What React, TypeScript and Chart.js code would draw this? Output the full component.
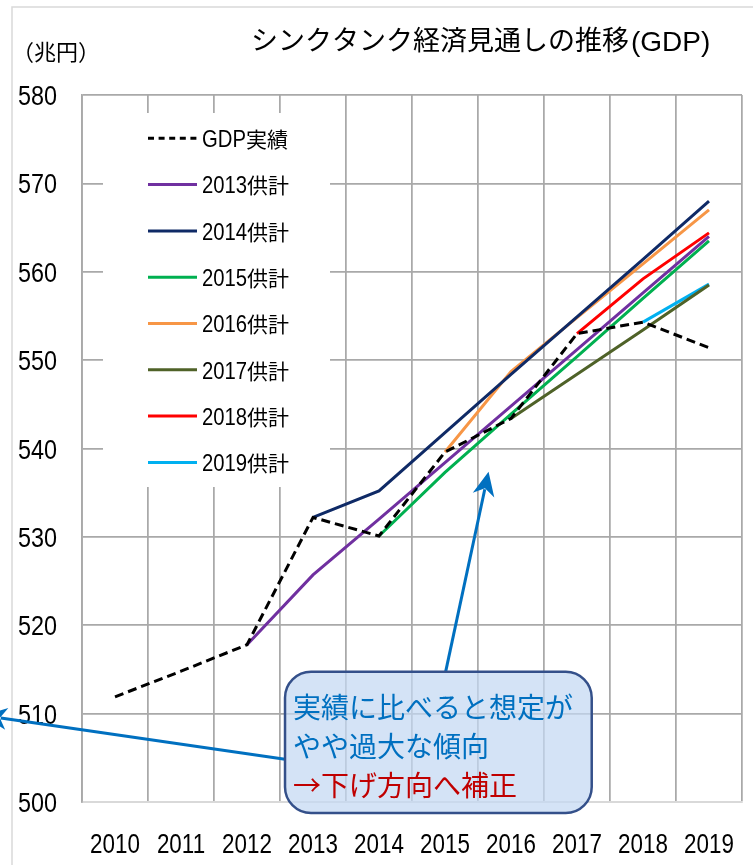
import React, { useEffect, useRef } from 'react';
import { Chart, registerables } from 'chart.js';

Chart.register(...registerables);

// ---------- data ----------
const years = ['2010', '2011', '2012', '2013', '2014', '2015', '2016', '2017', '2018', '2019'];
const gdpActual = [511.9, 514.8, 517.8, 532.2, 530.1, 539.6, 543.4, 553.0, 554.3, 551.4];
const forecast2013 = [null, null, 517.8, 525.7, 532.0, 538.4, 544.8, 551.2, 557.6, 564.0];
const forecast2014 = [null, null, null, 532.2, 535.2, 541.8, 548.4, 554.9, 561.4, 568.0];
const forecast2015 = [null, null, null, null, 530.1, 537.3, 543.9, 550.4, 557.0, 563.5];
const forecast2016 = [null, null, null, null, null, 539.6, 548.7, 554.8, 560.9, 567.0];
const forecast2017 = [null, null, null, null, null, null, 543.4, 548.4, 553.4, 558.5];
const forecast2018 = [null, null, null, null, null, null, null, 553.0, 559.2, 564.4];
const forecast2019 = [null, null, null, null, null, null, null, null, 554.3, 558.6];

const seriesNames = ['GDP実績', '2013供計', '2014供計', '2015供計', '2016供計', '2017供計', '2018供計', '2019供計'];
const seriesValues = [gdpActual, forecast2013, forecast2014, forecast2015, forecast2016, forecast2017, forecast2018, forecast2019];
const seriesColors = ['#000000', '#7030a0', '#0f2a66', '#00b050', '#f79646', '#4f6228', '#ff0000', '#00b0f0'];

const yMin = 500;
const yMax = 580;
const yStep = 10;

const titleCjk = 'シンクタンク経済見通しの推移';
const titleLatin = '(GDP)';
const unitText = '（兆円）';
const noteLines = ['実績に比べると想定が', 'やや過大な傾向', '→下げ方向へ補正'];
const noteColors = ['#0070c0', '#0070c0', '#c00000'];

// annotation anchors in data space (category index, value)
const noteBox = { x0: 2.576, x1: 7.223, yTop: 514.75, yBottom: 498.75 };
const arrowUp = { from: [5.01, 514.75], to: [5.66, 537.38] };
const arrowLeft = { from: [2.576, 504.83], to: [-2.0, 509.8] };

// ---------- styles ----------
const LATIN = "'Liberation Sans', Arial, sans-serif";
const CJK = "'Noto Sans CJK JP', sans-serif";
const GRID = '#a9a9a9';
const GRID_LIGHT = '#d9d9d9';
const ARROW = '#0070c0';

function drawScaled(ctx: CanvasRenderingContext2D, text: string, x: number, y: number, font: string, sx: number, align: string) {
  ctx.save();
  ctx.font = font;
  const w = ctx.measureText(text).width * sx;
  const left = align === 'center' ? x - w / 2 : align === 'right' ? x - w : x;
  ctx.translate(left, y);
  ctx.scale(sx, 1);
  ctx.textAlign = 'left';
  ctx.textBaseline = 'alphabetic';
  ctx.fillText(text, 0, 0);
  ctx.restore();
  return w;
}

function drawRuns(ctx: CanvasRenderingContext2D, text: string, x: number, y: number, latinFont: string, latinScale: number, cjkFont: string, color: string) {
  const runs = text.match(/[\x00-\x7F]+|[^\x00-\x7F]+/g) || [];
  let cx = x;
  ctx.fillStyle = color;
  for (const r of runs) {
    const latin = /^[\x00-\x7F]/.test(r);
    cx += drawScaled(ctx, r, cx, y, latin ? latinFont : cjkFont, latin ? latinScale : 1, 'left');
  }
}

function drawArrow(ctx: CanvasRenderingContext2D, x1: number, y1: number, x2: number, y2: number) {
  const ang = Math.atan2(y2 - y1, x2 - x1);
  const len = 24;
  const hw = 11;
  const bx = x2 - Math.cos(ang) * len;
  const by = y2 - Math.sin(ang) * len;
  ctx.save();
  ctx.strokeStyle = ARROW;
  ctx.fillStyle = ARROW;
  ctx.lineWidth = 3;
  ctx.beginPath();
  ctx.moveTo(x1, y1);
  ctx.lineTo(x2 - Math.cos(ang) * (len - 6), y2 - Math.sin(ang) * (len - 6));
  ctx.stroke();
  ctx.beginPath();
  ctx.moveTo(x2, y2);
  ctx.lineTo(bx + Math.sin(ang) * hw, by - Math.cos(ang) * hw);
  ctx.lineTo(x2 - Math.cos(ang) * (len - 7), y2 - Math.sin(ang) * (len - 7));
  ctx.lineTo(bx - Math.sin(ang) * hw, by + Math.cos(ang) * hw);
  ctx.closePath();
  ctx.fill();
  ctx.restore();
}

function area(chart: any) {
  return chart.chartArea;
}

const decorPlugin = {
  id: 'decor',
  beforeDraw(chart: any) {
    const ctx = chart.ctx as CanvasRenderingContext2D;
    ctx.save();
    // outer frame (left + top)
    ctx.strokeStyle = GRID_LIGHT;
    ctx.lineWidth = 1.5;
    ctx.beginPath();
    ctx.moveTo(12, chart.height + 5);
    ctx.lineTo(12, 7);
    ctx.lineTo(chart.width + 5, 7);
    ctx.stroke();
    // title
    ctx.fillStyle = '#000';
    ctx.textAlign = 'left';
    ctx.textBaseline = 'alphabetic';
    ctx.font = `27px ${CJK}`;
    ctx.fillText(titleCjk, 251, 50);
    const tw = ctx.measureText(titleCjk).width;
    ctx.font = `28px ${LATIN}`;
    ctx.fillText(titleLatin, 251 + tw + 2, 51);
    ctx.font = `22px ${CJK}`;
    ctx.fillText(unitText, 12, 60);
    ctx.restore();
  },
  beforeDatasetsDraw(chart: any) {
    const ctx = chart.ctx as CanvasRenderingContext2D;
    const a = chart.chartArea;
    ctx.save();
    // legend panel
    ctx.fillStyle = '#ffffff';
    ctx.fillRect(a.left + 21, a.top + 18, 227, 374);
    chart.data.datasets.forEach((ds: any, i: number) => {
      const cy = a.top + 43.3 + i * 46.3;
      ctx.strokeStyle = ds.borderColor;
      ctx.lineWidth = 3;
      ctx.setLineDash(ds.borderDash && ds.borderDash.length ? [6, 4.6] : []);
      ctx.beginPath();
      ctx.moveTo(a.left + 66, cy);
      ctx.lineTo(a.left + 115, cy);
      ctx.stroke();
      ctx.setLineDash([]);
      drawRuns(ctx, ds.label, a.left + 120, cy + 8.7, `24px ${LATIN}`, 0.845, `21px ${CJK}`, '#000');
    });
    ctx.restore();
  },
  afterDraw(chart: any) {
    const ctx = chart.ctx as CanvasRenderingContext2D;
    const xs = chart.scales.x;
    const ys = chart.scales.y;
    const px = (v: number) => xs.getPixelForValue(v);
    const py = (v: number) => ys.getPixelForValue(v);
    ctx.save();
    // axis tick labels (narrow, tall digits as in the reference)
    ctx.fillStyle = '#000';
    xs.ticks.forEach((t: any, i: number) => {
      const label = String(chart.data.labels[t.value]);
      drawScaled(ctx, label, xs.getPixelForTick(i), area(chart).bottom + 51, `28px ${LATIN}`, 0.8, 'center');
    });
    ys.ticks.forEach((t: any, i: number) => {
      drawScaled(ctx, String(t.value), area(chart).left - 25, ys.getPixelForTick(i) + 10, `28px ${LATIN}`, 0.835, 'right');
    });
    drawArrow(ctx, px(arrowUp.from[0]), py(arrowUp.from[1]), px(arrowUp.to[0]), py(arrowUp.to[1]));
    drawArrow(ctx, px(arrowLeft.from[0]), py(arrowLeft.from[1]), px(arrowLeft.to[0]), py(arrowLeft.to[1]));
    // note box
    const l = px(noteBox.x0), r = px(noteBox.x1), t = py(noteBox.yTop), b = py(noteBox.yBottom);
    ctx.beginPath();
    ctx.roundRect(l, t, r - l, b - t, 26);
    ctx.fillStyle = 'rgba(196, 216, 242, 0.72)';
    ctx.fill();
    ctx.lineWidth = 2.5;
    ctx.strokeStyle = '#34508a';
    ctx.stroke();
    ctx.font = `28px ${CJK}`;
    ctx.textAlign = 'left';
    ctx.textBaseline = 'alphabetic';
    noteLines.forEach((line, i) => {
      ctx.fillStyle = noteColors[i];
      ctx.fillText(line, l + 8, t + 46 + i * 39);
    });
    ctx.restore();
  },
};

export default function App() {
  const ref = useRef<HTMLCanvasElement | null>(null);
  useEffect(() => {
    document.body.style.margin = '0';
    const canvas = ref.current;
    if (!canvas) return;
    const chart = new Chart(canvas, {
      type: 'line',
      data: {
        labels: years,
        datasets: seriesValues.map((vals, i) => ({
          label: seriesNames[i],
          data: vals,
          borderColor: seriesColors[i],
          backgroundColor: seriesColors[i],
          borderWidth: 3,
          borderDash: i === 0 ? [9, 5] : [],
          pointRadius: 0,
          pointHoverRadius: 0,
          tension: 0,
          fill: false,
          spanGaps: false,
        })),
      },
      options: {
        animation: false,
        responsive: false,
        maintainAspectRatio: false,
        events: [],
        layout: { padding: { top: 95, left: 0, right: 11, bottom: 0 } },
        plugins: {
          legend: { display: false },
          title: { display: false },
          tooltip: { enabled: false },
        },
        scales: {
          x: {
            type: 'category',
            offset: true,
            grid: { offset: true, color: GRID, lineWidth: 1.75, drawTicks: false },
            border: { color: GRID_LIGHT, width: 2 },
            ticks: { display: false, autoSkip: false },
            afterFit: (s: any) => { s.height = 63; },
          },
          y: {
            min: yMin,
            max: yMax,
            grid: {
              color: (c: any) => (c.tick && c.tick.value === yMin ? GRID_LIGHT : GRID),
              lineWidth: 1.75,
              drawTicks: false,
            },
            border: { color: GRID, width: 1.75 },
            ticks: { display: false, stepSize: yStep },
            afterFit: (s: any) => { s.width = 82; },
          },
        },
      },
      plugins: [decorPlugin],
    });
    return () => chart.destroy();
  }, []);
  return <canvas ref={ref} width={753} height={865} style={{ display: 'block' }} />;
}
